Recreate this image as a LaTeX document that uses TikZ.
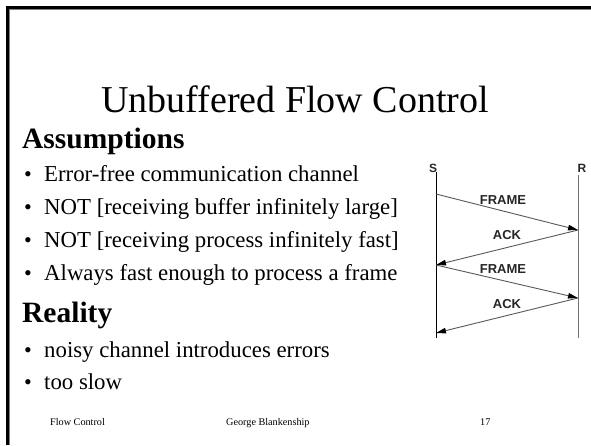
\documentclass[tikz,border=0pt]{standalone}
\usepackage{fontspec}
\setmainfont{Liberation Serif}
\newfontfamily\arialfont{Liberation Sans}
\usetikzlibrary{arrows.meta}
\begin{document}
\begin{tikzpicture}[x=1pt,y=-1pt,
  body/.style={anchor=base west,inner sep=0pt,font=\fontsize{22.8}{27}\selectfont},
  bul/.style={anchor=base west,inner sep=0pt,font=\fontsize{22}{27}\selectfont},
  head/.style={anchor=base west,inner sep=0pt,font=\fontsize{29.5}{33}\selectfont\bfseries},
  foot/.style={anchor=base west,inner sep=0pt,font=\fontsize{10.2}{12}\selectfont},
  lbl/.style={inner sep=0pt,text=black!85,font=\arialfont\bfseries\fontsize{13}{15}\selectfont},
  ends/.style={inner sep=0pt,text=black!85,font=\arialfont\bfseries\fontsize{12}{14}\selectfont},
  msg/.style={draw=black!65,line width=0.9pt,-{Triangle[length=10pt,width=5.5pt,color=black]}}
]
\useasboundingbox (0,0) rectangle (591,445);
\fill[white] (0,0) rectangle (591,445);
% frame
\draw[line width=3pt] (7.5,445) -- (7.5,7.5) -- (591,7.5);
\draw[black!50,line width=1pt] (9.5,445) -- (9.5,9.5) -- (591,9.5);
% title
\node[anchor=base,inner sep=0pt,font=\fontsize{38}{40}\selectfont] (title) at (295,112) {Unbuffered Flow Control};
% assumptions
\node[head] (h1) at (22,148) {Assumptions};
\node[bul] (b1) at (24,181) {\textbullet};
\node[body] (t1) at (44,181) {Error-free communication channel};
\node[bul] (b2) at (24,214) {\textbullet};
\node[body] (t2) at (44,214) {NOT [receiving buffer infinitely large]};
\node[bul] (b3) at (24,247) {\textbullet};
\node[body] (t3) at (44,247) {NOT [receiving process infinitely fast]};
\node[bul] (b4) at (24,280) {\textbullet};
\node[body] (t4) at (44,280) {Always fast enough to process a frame};
% reality
\node[head] (h2) at (22,322) {Reality};
\node[bul] (b5) at (24,357) {\textbullet};
\node[body] (t5) at (44,357) {noisy channel introduces errors};
\node[bul] (b6) at (24,389) {\textbullet};
\node[body] (t6) at (44,389) {too slow};
% footer
\node[foot] (f1) at (50,425) {Flow Control};
\node[foot] (f2) at (226,425) {George Blankenship};
\node[foot] (f3) at (480,425) {17};
% diagram
\node[ends] (S) at (433,168) {S};
\node[ends] (R) at (582,168) {R};
\coordinate (stop) at (436,172);
\coordinate (sbot) at (436,338);
\coordinate (rtop) at (578,175);
\coordinate (rbot) at (578,338);
\draw[black,line width=0.9pt] (stop) -- (sbot);
\draw[black!55,line width=1pt] (rtop) -- (rbot);
\coordinate (s1) at (436,194);
\coordinate (r1) at (578,230);
\coordinate (s2) at (436,265);
\coordinate (r2) at (578,298);
\coordinate (s3) at (436,333);
\draw[msg] (s1) -- (r1);
\draw[msg] (r1) -- (s2);
\draw[msg] (s2) -- (r2);
\draw[msg] (r2) -- (s3);
\node[lbl] (l1) at (503,200) {FRAME};
\node[lbl] (l2) at (507,235) {ACK};
\node[lbl] (l3) at (503,269) {FRAME};
\node[lbl] (l4) at (507,304) {ACK};
\end{tikzpicture}
\end{document}
